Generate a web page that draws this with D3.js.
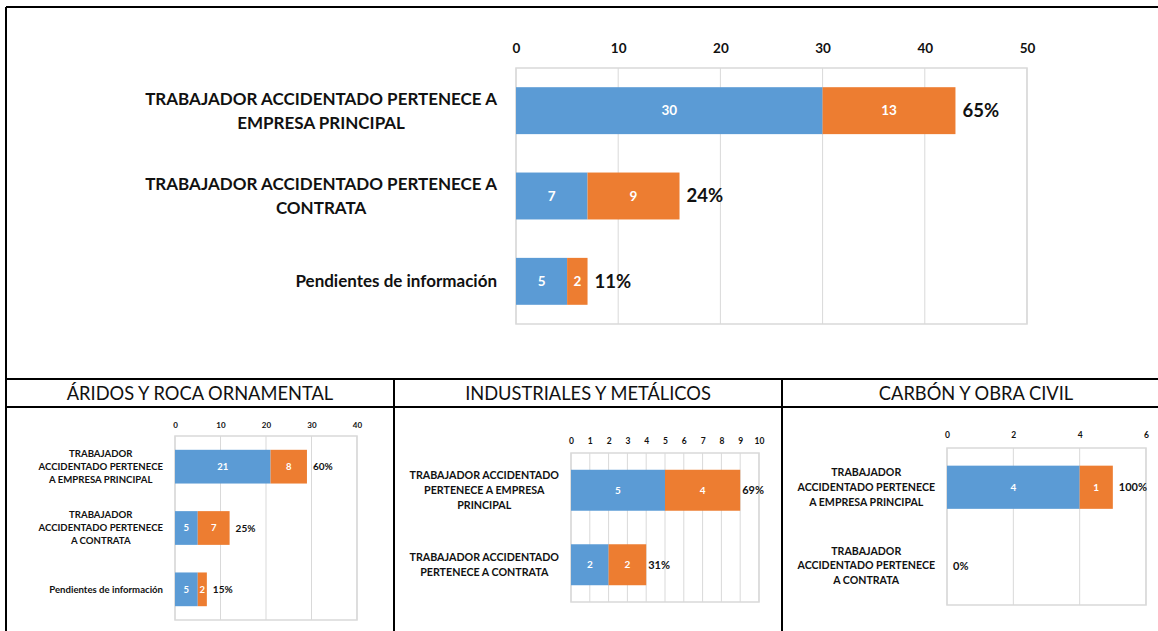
<!DOCTYPE html>
<html>
<head>
<meta charset="utf-8">
<script src="https://cdn.jsdelivr.net/npm/d3@7"></script>
<style>
  body { margin: 0; background: #fff; }
  svg { display: block; font-family: Lato, "Open Sans", sans-serif; }
</style>
</head>
<body>
<svg id="chart" width="1158" height="631"></svg>
<script>
// Datos: accidentes por tipo de empresa del trabajador
var catsTotal = ["TRABAJADOR ACCIDENTADO PERTENECE A\nEMPRESA PRINCIPAL",
                 "TRABAJADOR ACCIDENTADO PERTENECE A\nCONTRATA",
                 "Pendientes de información"];
var totalA = [30, 7, 5];
var totalB = [13, 9, 2];

var catsAridos = ["TRABAJADOR\nACCIDENTADO PERTENECE\nA EMPRESA PRINCIPAL",
                  "TRABAJADOR\nACCIDENTADO PERTENECE\nA CONTRATA",
                  "Pendientes de información"];
var aridosA = [21, 5, 5];
var aridosB = [8, 7, 2];

var catsIndus = ["TRABAJADOR ACCIDENTADO\nPERTENECE A EMPRESA\nPRINCIPAL",
                 "TRABAJADOR ACCIDENTADO\nPERTENECE A CONTRATA"];
var indusA = [5, 2];
var indusB = [4, 2];

var catsCarbon = ["TRABAJADOR\nACCIDENTADO PERTENECE\nA EMPRESA PRINCIPAL",
                  "TRABAJADOR\nACCIDENTADO PERTENECE\nA CONTRATA"];
var carbonA = [4, 0];
var carbonB = [1, 0];

var panelTitles = ["ÁRIDOS Y ROCA ORNAMENTAL", "INDUSTRIALES Y METÁLICOS", "CARBÓN Y OBRA CIVIL"];

var blue = "#5B9BD5", orange = "#ED7D31", grid = "#d9d9d9";

var svg = d3.select("#chart");

// marcos negros de la tabla
var frame = svg.append("g").attr("stroke", "#000").attr("stroke-width", 2);
frame.append("line").attr("x1", 6).attr("x2", 1158).attr("y1", 7).attr("y2", 7);
frame.append("line").attr("x1", 6).attr("x2", 6).attr("y1", 7).attr("y2", 631);
frame.append("line").attr("x1", 6).attr("x2", 1158).attr("y1", 379).attr("y2", 379);
frame.append("line").attr("x1", 6).attr("x2", 1158).attr("y1", 407).attr("y2", 407);
frame.append("line").attr("x1", 394).attr("x2", 394).attr("y1", 379).attr("y2", 631);
frame.append("line").attr("x1", 782).attr("x2", 782).attr("y1", 379).attr("y2", 631);

// titulos de los paneles
var titleX = [200, 588, 976];
panelTitles.forEach(function(t, i) {
  svg.append("text")
      .attr("x", titleX[i]).attr("y", 393)
      .attr("text-anchor", "middle").attr("dominant-baseline", "central")
      .attr("font-size", 18.3).attr("fill", "#111")
      .text(t);
});

function drawChart(cfg) {
  var n = cfg.cats.length;
  var sum = d3.sum(cfg.a) + d3.sum(cfg.b);
  var x = d3.scaleLinear().domain([0, cfg.max]).range([cfg.x0, cfg.x1]);
  var y = d3.scaleBand().domain(d3.range(n)).range([cfg.y0, cfg.y1])
      .paddingInner(0.45).paddingOuter(0.225);
  var g = svg.append("g");

  // rejilla
  g.selectAll(".grid").data(x.ticks(cfg.ticks)).enter().append("line")
      .attr("x1", function(d) { return x(d); })
      .attr("x2", function(d) { return x(d); })
      .attr("y1", cfg.y0).attr("y2", cfg.y1)
      .attr("stroke", grid).attr("stroke-width", 1);
  g.append("rect")
      .attr("x", cfg.x0).attr("y", cfg.y0)
      .attr("width", cfg.x1 - cfg.x0).attr("height", cfg.y1 - cfg.y0)
      .attr("fill", "none").attr("stroke", grid).attr("stroke-width", 1.5);

  // eje superior
  var ax = g.append("g")
      .attr("transform", "translate(0," + (cfg.y0 - cfg.axisGap) + ")")
      .call(d3.axisTop(x).ticks(cfg.ticks).tickSize(0).tickPadding(0));
  ax.select(".domain").remove();
  ax.selectAll("text")
      .attr("font-family", "Lato, sans-serif")
      .attr("font-size", cfg.tickFs).attr("font-weight", "bold")
      .attr("fill", "#111").attr("dy", "0.35em");

  // barras apiladas
  var rows = d3.range(n).map(function(i) {
    return { i: i, a: cfg.a[i], b: cfg.b[i], t: cfg.a[i] + cfg.b[i] };
  });
  g.selectAll(".barA").data(rows).enter().append("rect")
      .attr("x", x(0))
      .attr("y", function(d) { return y(d.i); })
      .attr("width", function(d) { return x(d.a) - x(0); })
      .attr("height", y.bandwidth())
      .attr("fill", blue);
  g.selectAll(".barB").data(rows).enter().append("rect")
      .attr("x", function(d) { return x(d.a); })
      .attr("y", function(d) { return y(d.i); })
      .attr("width", function(d) { return x(d.t) - x(d.a); })
      .attr("height", y.bandwidth())
      .attr("fill", orange);

  // valores dentro de las barras
  var vals = [];
  rows.forEach(function(d) {
    if (d.a > 0) vals.push({ i: d.i, v: d.a, c: (d.a) / 2 });
    if (d.b > 0) vals.push({ i: d.i, v: d.b, c: d.a + d.b / 2 });
  });
  g.selectAll(".val").data(vals).enter().append("text")
      .attr("x", function(d) { return x(d.c); })
      .attr("y", function(d) { return y(d.i) + y.bandwidth() / 2; })
      .attr("dy", "0.35em").attr("text-anchor", "middle")
      .attr("font-size", cfg.valFs).attr("font-weight", "bold").attr("fill", "#fff")
      .text(function(d) { return d.v; });

  // porcentajes
  g.selectAll(".pct").data(rows).enter().append("text")
      .attr("x", function(d) { return x(d.t) + cfg.pctGap; })
      .attr("y", function(d) { return y(d.i) + y.bandwidth() / 2; })
      .attr("dy", "0.35em")
      .attr("font-size", cfg.pctFs).attr("font-weight", "bold").attr("fill", "#111")
      .text(function(d) { return Math.round(d.t / sum * 100) + "%"; });

  // etiquetas de categoria (bloque alineado a la derecha, lineas centradas)
  cfg.cats.forEach(function(c, i) {
    var lines = c.split("\n");
    var t = g.append("text")
        .attr("font-size", cfg.catFs).attr("font-weight", "bold").attr("fill", "#111")
        .attr("text-anchor", "middle");
    var cy = y(i) + y.bandwidth() / 2;
    lines.forEach(function(l, k) {
      t.append("tspan")
          .attr("y", cy + (k - (lines.length - 1) / 2) * cfg.lineH)
          .attr("dy", "0.35em")
          .text(l);
    });
    var w = d3.max(t.selectAll("tspan").nodes(), function(nd) { return nd.getComputedTextLength(); });
    t.selectAll("tspan").attr("x", cfg.x0 - cfg.labelGap - w / 2);
  });
}

drawChart({ cats: catsTotal, a: totalA, b: totalB, max: 50, ticks: 5,
  x0: 516, x1: 1027, y0: 68, y1: 324, axisGap: 20, labelGap: 19,
  tickFs: 13.5, valFs: 13.5, pctFs: 18.5, catFs: 17, lineH: 24, pctGap: 7 });

drawChart({ cats: catsAridos, a: aridosA, b: aridosB, max: 40, ticks: 4,
  x0: 175, x1: 357, y0: 436, y1: 620, axisGap: 11, labelGap: 12,
  tickFs: 8, valFs: 9.5, pctFs: 10, catFs: 9.6, lineH: 13, pctGap: 6 });

drawChart({ cats: catsIndus, a: indusA, b: indusB, max: 10, ticks: 10,
  x0: 571, x1: 759, y0: 453, y1: 602, axisGap: 12, labelGap: 12,
  tickFs: 8.5, valFs: 10, pctFs: 11, catFs: 10.7, lineH: 15, pctGap: 2 });

drawChart({ cats: catsCarbon, a: carbonA, b: carbonB, max: 6, ticks: 3,
  x0: 947, x1: 1146, y0: 448, y1: 605, axisGap: 13, labelGap: 12,
  tickFs: 8.5, valFs: 10, pctFs: 11, catFs: 10.6, lineH: 14.7, pctGap: 6 });
</script>
</body>
</html>
